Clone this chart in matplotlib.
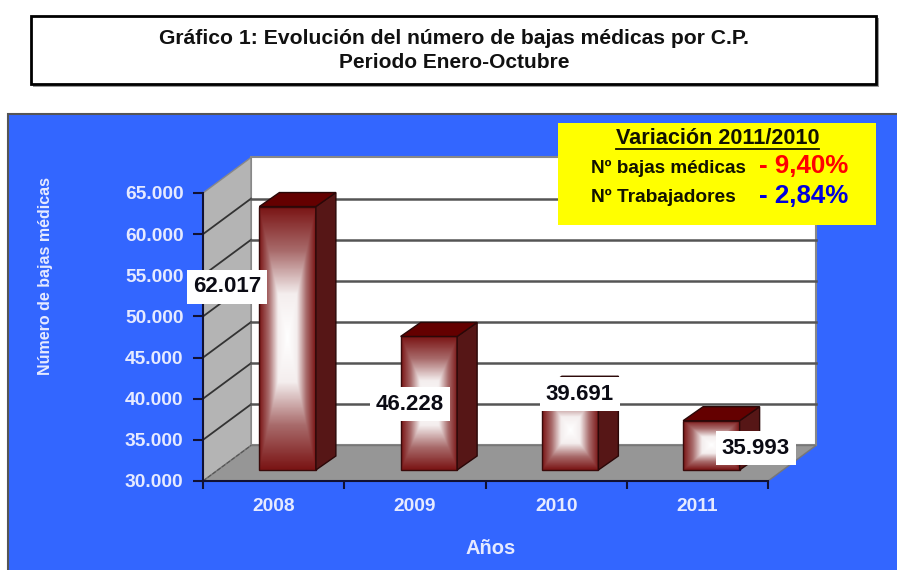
import numpy as np
import matplotlib
matplotlib.use("Agg")
import matplotlib.pyplot as plt
from matplotlib.colors import LinearSegmentedColormap
from matplotlib.patches import Polygon, Rectangle

plt.rcParams['font.family'] = ['Liberation Sans', 'DejaVu Sans']

years = ["2008", "2009", "2010", "2011"]
bajas = [62017, 46228, 39691, 35993]
bajas_labels = ["62.017", "46.228", "39.691", "35.993"]
y_ticks = [30000, 35000, 40000, 45000, 50000, 55000, 60000, 65000]
y_tick_labels = ["30.000", "35.000", "40.000", "45.000", "50.000", "55.000", "60.000", "65.000"]

W, H = 897, 570
BLUE = "#3366FF"
LIGHT = "#E6EAFF"

# label box centres in pixels, the labels were moved by hand in the original
label_pos = [(227, 287), (410, 404), (580, 394), (756, 448)]

fig = plt.figure(figsize=(W / 100, H / 100), dpi=100, facecolor="white")

# page furniture in pixel coordinates
bg = fig.add_axes([0, 0, 1, 1], zorder=0)
bg.set_xlim(0, W)
bg.set_ylim(H, 0)
bg.axis("off")
bg.add_patch(Rectangle((33, 18), 846, 69, fc="#999999", ec="none"))
bg.add_patch(Rectangle((31, 16), 845, 68, fc="white", ec="black", lw=2))
bg.text(454, 39, "Gráfico 1: Evolución del número de bajas médicas por C.P.",
        ha="center", va="center", fontsize=15.2, fontweight="bold", color="#111111")
bg.text(454, 62, "Periodo Enero-Octubre",
        ha="center", va="center", fontsize=15, fontweight="bold", color="#111111")
bg.add_patch(Rectangle((8, 114), W, H, fc=BLUE, ec="#555555", lw=1.5))

# front plane of the 3D chart: category units on x, values on y
ax = fig.add_axes([203 / W, 1 - 481 / H, 565 / W, 288 / H], zorder=1)
ax.patch.set_alpha(0)
x_px = 565 / 4
y_px = 35000 / 288


def depth(x, y, px, py):
    return x + px / x_px, y + py * y_px


x0, x1 = 0, 4
y0, y1 = y_ticks[0], y_ticks[-1]
dx, dy = 48, 35.5

# walls and floor
ax.add_patch(Polygon([depth(x0, y0, dx, dy), depth(x1, y0, dx, dy), depth(x1, y1, dx, dy), depth(x0, y1, dx, dy)],
                     fc="white", ec="#888888", lw=1.5, clip_on=False, zorder=1))
ax.add_patch(Polygon([(x0, y0), depth(x0, y0, dx, dy), depth(x0, y1, dx, dy), (x0, y1)],
                     fc="#B4B4B4", ec="#888888", lw=1, clip_on=False, zorder=1))
ax.add_patch(Polygon([(x0, y0), (x1, y0), depth(x1, y0, dx, dy), depth(x0, y0, dx, dy)],
                     fc="#969696", ec="#777777", lw=1, clip_on=False, zorder=1))
for v in y_ticks[1:-1]:
    bx, by = depth(x0, v, dx, dy)
    ex, ey = depth(x1, v, dx, dy)
    ax.plot([x0, bx], [v, by], color="#333333", lw=1.3, clip_on=False, zorder=2)
    ax.plot([bx, ex], [by, ey], color="#555555", lw=1.8, clip_on=False, zorder=2)
bx, by = depth(x0, y0, dx, dy)
ax.plot([x0, bx], [y0, by], color="#555555", lw=0.8, ls="--", clip_on=False, zorder=2)

# bars, sitting in the middle of the floor
cmap = LinearSegmentedColormap.from_list("bar", ["#FFFFFF", "#F4EEEE", "#A86A6A", "#7A1414"])
u, v = np.meshgrid(np.linspace(-1, 1, 120), np.linspace(-1, 1, 240))
shade = np.maximum(np.abs(u), np.abs(v))
bar_w = 0.4
shift_x, shift_y = 14, 11
side_x, side_y = 20, 14
for i, val in enumerate(bajas):
    left, base = depth(i + 0.5 - bar_w / 2, y0, shift_x, shift_y)
    right = left + bar_w
    top = val + shift_y * y_px
    ax.imshow(shade, cmap=cmap, vmin=0, vmax=1, extent=(left, right, base, top), aspect="auto",
              interpolation="bilinear", clip_on=False, zorder=3)
    ax.add_patch(Rectangle((left, base), bar_w, top - base, fc="none", ec="#3A0A0A", lw=1, clip_on=False, zorder=4))
    ax.add_patch(Polygon([(right, base), depth(right, base, side_x, side_y), depth(right, top, side_x, side_y), (right, top)],
                         fc="#561616", ec="#2A0808", lw=1, clip_on=False, zorder=4))
    ax.add_patch(Polygon([(left, top), (right, top), depth(right, top, side_x, side_y), depth(left, top, side_x, side_y)],
                         fc="#640000", ec="#2A0808", lw=1, clip_on=False, zorder=4))

ax.set_xlim(x0, x1)
ax.set_ylim(y0, y1)
for s in ["top", "right"]:
    ax.spines[s].set_visible(False)
for s in ["left", "bottom"]:
    ax.spines[s].set_linewidth(1.5)
    ax.spines[s].set_color("#111133")
ax.spines["left"].set_zorder(5)
ax.spines["bottom"].set_zorder(5)
ax.set_yticks(y_ticks)
ax.set_yticklabels(y_tick_labels, fontsize=13.8, fontweight="bold", color=LIGHT)
ax.set_xticks(range(5))
ax.set_xticklabels([])
ax.set_xticks([i + 0.5 for i in range(4)], labels=years, minor=True, fontsize=13.8, fontweight="bold", color=LIGHT)
ax.tick_params(axis="y", length=7, width=1.5, color="#111133", pad=7)
ax.tick_params(axis="x", which="major", length=6, width=1.5, color="#111133")
ax.tick_params(axis="x", which="minor", length=0, pad=12)

# top layer, labels and the yellow box
top_ax = fig.add_axes([0, 0, 1, 1], zorder=2)
top_ax.set_xlim(0, W)
top_ax.set_ylim(H, 0)
top_ax.axis("off")
for (lx, ly), txt in zip(label_pos, bajas_labels):
    top_ax.text(lx, ly, txt, ha="center", va="center", fontsize=16, fontweight="bold", color="#0B0B14",
                bbox=dict(fc="white", ec="none", pad=4.5))
top_ax.text(46, 276, "Número de bajas médicas", rotation=90, ha="center", va="center", fontsize=11.5,
            fontweight="bold", color=LIGHT)
top_ax.text(491, 549, "Años", ha="center", va="center", fontsize=14.5, fontweight="bold", color=LIGHT)

top_ax.add_patch(Rectangle((558, 123), 318, 102, fc="#FFFF00", ec="none"))
top_ax.text(718, 138, "Variación 2011/2010", ha="center", va="center", fontsize=15.6, fontweight="bold",
            color="#111100")
top_ax.plot([616, 819], [149, 149], color="#111100", lw=1.3)
top_ax.text(746, 168, "Nº bajas médicas", ha="right", va="center", fontsize=13.6, fontweight="bold", color="#111100")
top_ax.text(848, 166, "- 9,40%", ha="right", va="center", fontsize=18.6, fontweight="bold", color="#FF0000")
top_ax.text(736, 197, "Nº Trabajadores", ha="right", va="center", fontsize=13.8, fontweight="bold", color="#111100")
top_ax.text(848, 196, "- 2,84%", ha="right", va="center", fontsize=18.6, fontweight="bold", color="#0000DD")

fig.savefig("out.png", dpi=100)
